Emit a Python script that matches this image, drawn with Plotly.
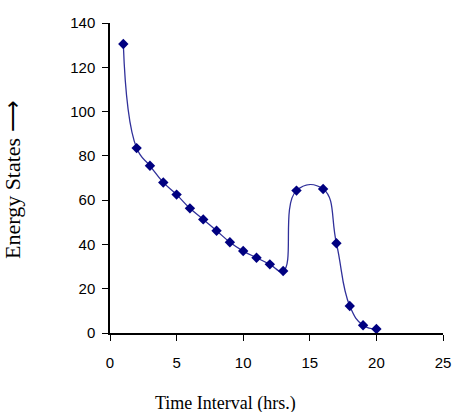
import plotly.graph_objects as go

hours = [1, 2, 3, 4, 5, 6, 7, 8, 9, 10, 11, 12, 13, 14, 16, 17, 18, 19, 20]
energy = [130.5, 83.5, 75.5, 68, 62.5, 56.3, 51.3, 46.2, 41, 37, 34, 31, 28, 64.3, 65, 40.5, 12.2, 3.5, 1.8]
x_ticks = [0, 5, 10, 15, 20, 25]
y_ticks = [0, 20, 40, 60, 80, 100, 120, 140]

fig = go.Figure()
fig.add_trace(go.Scatter(
    x=hours, y=energy, mode="lines+markers",
    line=dict(color="#30309a", width=1.3, shape="spline", smoothing=1.3),
    marker=dict(symbol="diamond", size=8, color="#000080"),
    showlegend=False,
))

tick_font = dict(family="Liberation Sans Narrow, Arial Narrow, Liberation Sans, sans-serif", size=15, color="black")
serif = "Liberation Serif, Times New Roman, serif"
fig.update_layout(
    width=457, height=412,
    margin=dict(l=110, r=14, t=23, b=79, autoexpand=False),
    paper_bgcolor="white", plot_bgcolor="white",
    xaxis=dict(range=[0, 25], tickvals=x_ticks, showgrid=False, zeroline=False,
               showline=True, linecolor="black", linewidth=1.5, automargin=False,
               ticks="outside", ticklen=6, tickcolor="black", tickfont=tick_font,
               ticklabelstandoff=9),
    yaxis=dict(range=[0, 140], tickvals=y_ticks, showgrid=False, zeroline=False,
               showline=True, linecolor="black", linewidth=1.5, automargin=False,
               ticks="outside", ticklen=6, tickcolor="black", tickfont=tick_font,
               ticklabelstandoff=4),
    annotations=[
        dict(text="Time Interval (hrs.)", xref="paper", yref="paper",
             x=(225 - 110) / 333, y=-(403 - 333) / 310, xanchor="center", yanchor="middle",
             showarrow=False, font=dict(family=serif, size=18, color="black")),
        dict(text="Energy States \u27f6", xref="paper", yref="paper",
             x=-(110 - 12) / 333, y=(333 - 180) / 310, xanchor="center", yanchor="middle",
             textangle=-90, showarrow=False, font=dict(family=serif, size=22, color="black")),
    ],
)
fig.write_html("out.html")
